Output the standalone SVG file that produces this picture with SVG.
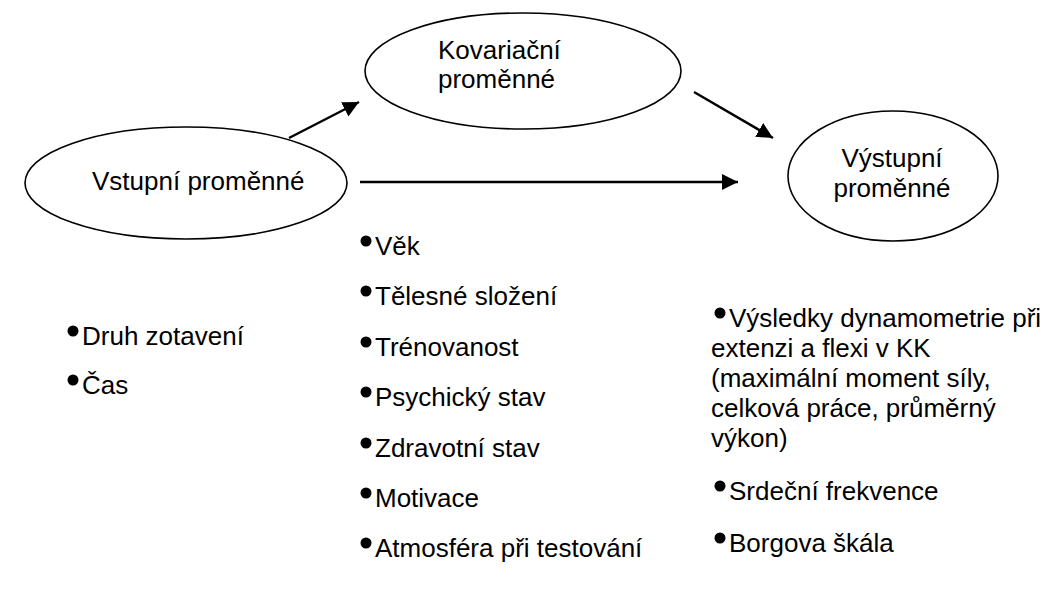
<svg xmlns="http://www.w3.org/2000/svg" width="1059" height="592" viewBox="0 0 1059 592">
<style>
.node ellipse{fill:#fff;stroke:#000;stroke-width:1.6}
text{font-family:"Liberation Sans",Arial,sans-serif;font-size:26px;fill:#000}
.conn line{stroke:#000;stroke-width:2.4}
.b{fill:#000}
</style>
<defs>
<marker id="ah" markerUnits="userSpaceOnUse" markerWidth="17" markerHeight="17" refX="16" refY="8" orient="auto">
<path d="M0,0 L16,8 L0,16 z" fill="#000"/>
</marker>
</defs>
<rect width="1059" height="592" fill="#fff"/>
<g class="conn">
<line x1="289" y1="138" x2="359" y2="102" marker-end="url(#ah)"/>
<line x1="694" y1="92" x2="773" y2="138" marker-end="url(#ah)"/>
<line x1="360" y1="182" x2="738" y2="182" marker-end="url(#ah)"/>
</g>
<g id="vstupni" class="node">
<ellipse cx="186" cy="183" rx="161" ry="56"/>
<text x="92" y="190">Vstupní proměnné</text>
</g>
<g id="kovariacni" class="node">
<ellipse cx="523" cy="71" rx="158" ry="58"/>
<text x="438" y="59">Kovariační</text>
<text x="438" y="88">proměnné</text>
</g>
<g id="vystupni" class="node">
<ellipse cx="893" cy="176" rx="105" ry="65"/>
<text x="892" y="167" text-anchor="middle">Výstupní</text>
<text x="892" y="197" text-anchor="middle">proměnné</text>
</g>
<g id="list-vstupni">
<circle class="b" cx="73" cy="331" r="5.5"/>
<text x="82" y="345">Druh zotavení</text>
<circle class="b" cx="73" cy="380" r="5.5"/>
<text x="82" y="394">Čas</text>
</g>
<g id="list-kovariacni">
<circle class="b" cx="366" cy="241" r="5.5"/>
<text x="375" y="255">Věk</text>
<circle class="b" cx="366" cy="291" r="5.5"/>
<text x="375" y="305">Tělesné složení</text>
<circle class="b" cx="366" cy="342" r="5.5"/>
<text x="375" y="356">Trénovanost</text>
<circle class="b" cx="366" cy="392" r="5.5"/>
<text x="375" y="406">Psychický stav</text>
<circle class="b" cx="366" cy="443" r="5.5"/>
<text x="375" y="457">Zdravotní stav</text>
<circle class="b" cx="366" cy="493" r="5.5"/>
<text x="375" y="507">Motivace</text>
<circle class="b" cx="366" cy="543" r="5.5"/>
<text x="375" y="557">Atmosféra při testování</text>
</g>
<g id="list-vystupni">
<circle class="b" cx="720" cy="313" r="5.5"/>
<text x="729" y="327">Výsledky dynamometrie při</text>
<text x="711" y="357">extenzi a flexi v KK</text>
<text x="711" y="387">(maximální moment síly,</text>
<text x="711" y="417">celková práce, průměrný</text>
<text x="711" y="447">výkon)</text>
<circle class="b" cx="720" cy="486" r="5.5"/>
<text x="729" y="500">Srdeční frekvence</text>
<circle class="b" cx="720" cy="538" r="5.5"/>
<text x="729" y="552">Borgova škála</text>
</g>
</svg>
